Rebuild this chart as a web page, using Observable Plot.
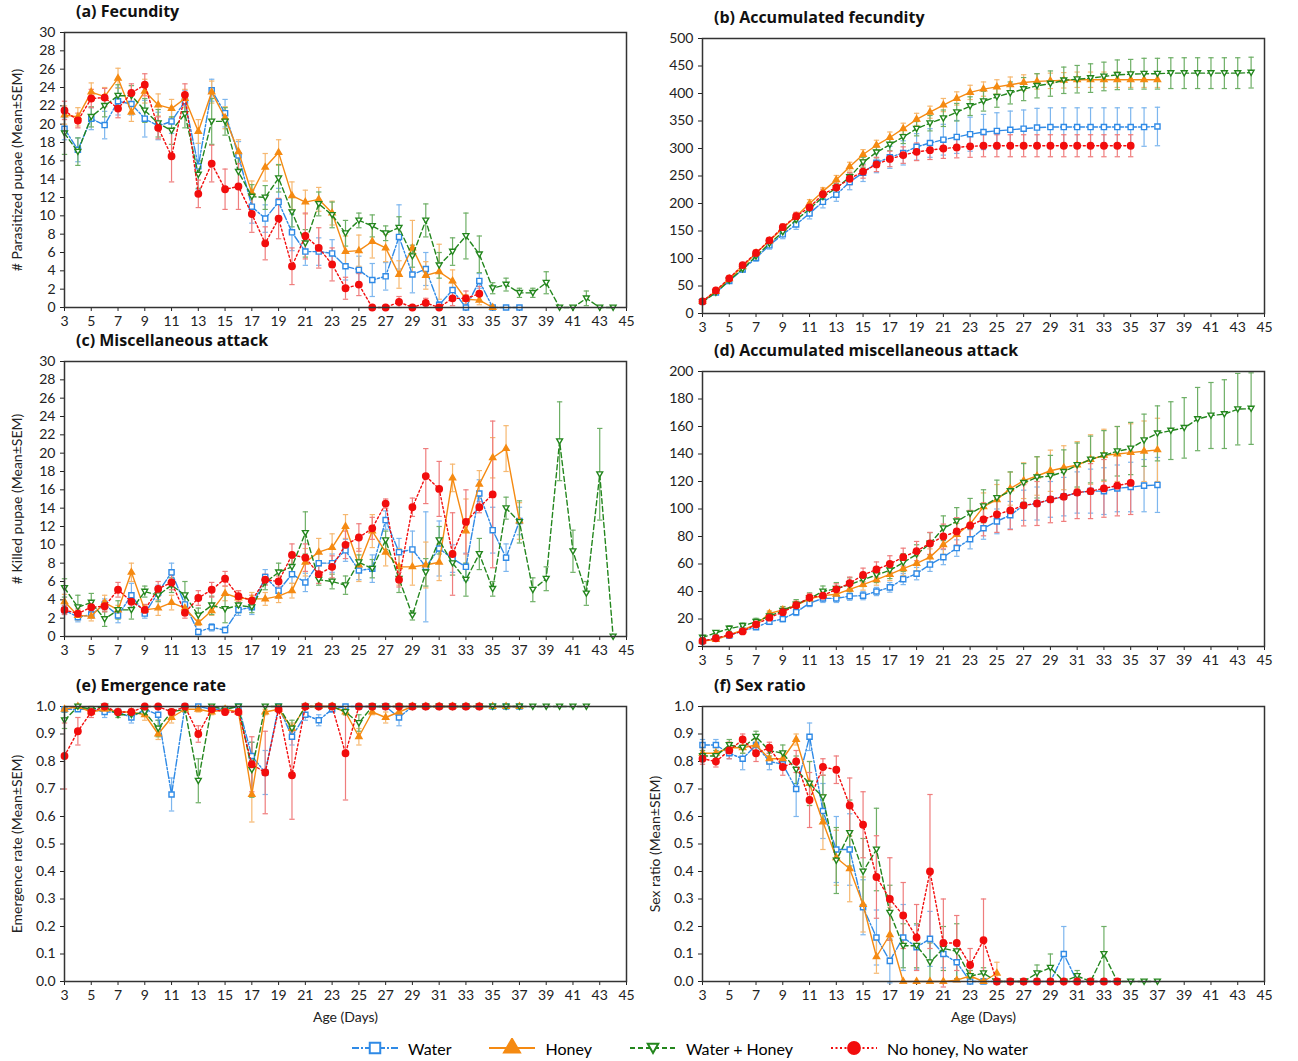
<!DOCTYPE html>
<html><head><meta charset="utf-8">
<script src="https://cdn.jsdelivr.net/npm/d3@7"></script>
<script src="https://cdn.jsdelivr.net/npm/@observablehq/plot@0.6"></script>
<style>
body{margin:0;background:#fff;font-family:Lato,"Open Sans",sans-serif;}
.panel{position:absolute;}
.ttl{position:absolute;font:bold 16px "Open Sans",sans-serif;color:#111;}
#legend{position:absolute;left:350px;top:1038px;font:16px Lato,sans-serif;display:flex;gap:36px;align-items:center;}
#legend span{display:flex;align-items:center;gap:8px;}
</style></head><body>
<div id="root"></div>
<div id="legend"></div>
<script>
// ---- data: index 0 = day 3 ----
const seriesNames = ["Water", "Honey", "Water + Honey", "No honey, No water"];

// (a) Fecundity
const fecWater = [19.5,17.2,20.6,19.9,22.5,22.2,20.6,19.8,20.3,22.5,15.4,23.7,21.2,16.6,11,9.7,11.5,8.2,6.1,6.1,5.9,4.5,4.1,3,3.4,7.7,3.6,4.2,0.3,1.9,0,2.9,0,0,0];
const fecHoney = [21,20.8,23.5,23,25,21.3,23.6,22.1,21.7,22.8,19.2,23.5,20.7,17,12.5,15.3,16.9,12.2,11.5,11.8,10.3,6.1,6.2,7.2,6.5,3.6,6.5,3.5,3.9,2.9,0.9,0.8,0];
const fecWH = [19,17,20.8,22,23.1,23.1,21.5,20.1,19.3,21.1,14.5,20.3,20.3,14.8,12.1,12,14.1,10.4,7,11.3,10.1,8.1,9.5,8.9,8.1,8.7,5.6,9.5,4.6,6.1,7.8,5.8,2.1,2.5,1.6,1.6,2.7,0,0,1,0,0];
const fecNone = [21.5,20.4,22.8,22.9,21.7,23.4,24.3,19.6,16.5,23.2,12.4,15.7,12.9,13.2,10.2,7,9.7,4.5,7.8,6.5,4.7,2.1,2.5,0,0,0.6,0,0.5,0,1,1,1.5];
const fecWaterSem = [1.2,1.3,1.2,1.5,1.5,1.2,2,1.5,1.3,1.2,2.5,1.2,1.5,1.5,1.8,1.5,1.5,2,1.5,1.5,1.5,1.5,1.5,1.8,1.5,3.5,2,1.8,0.3,0.8,0,0.8,0,0,0];
const fecHoneySem = [1,1,1,1,1.1,1,1.3,1.2,1,1,1.3,1.2,1.2,1.3,1.3,1.5,1.4,1.5,1.3,1.3,1.3,1.7,1.7,1.8,1.5,1.5,3,1.5,3,1.2,0.5,0.5,0];
const fecWHSem = [2.3,1.5,1.1,1.2,1.2,1.1,1.3,1.5,1.5,1.5,1.5,2.5,1.5,1.5,1.3,1.3,1.5,1.6,1.5,1.3,1.4,1.4,0.8,1.2,0.8,1.2,1.2,1.8,1.4,1.5,2.5,2,0.6,0.7,0.5,0.5,1.2,0,0,0.8,0,0];
const fecNoneSem = [1,0.8,1,1,1,1,1.2,1.2,2.8,1.2,1.5,2,2.2,2.5,2,1.8,2.2,2,2.5,2.2,1.8,1.2,1.2,0,0,0.6,0,0.5,0,0.8,0.8,0.8];

// (b) Accumulated fecundity
const accWater = [22,38,59,80,101,124,144,162,182,203,216,239,256,274,284,292,303,310,316,321,326,330,332,334,336,338,339,339,339,339,339,339,339,339,340];
const accHoney = [22,40,63,85,110,132,155,177,200,222,243,267,289,306,320,336,353,366,379,391,402,408,412,416,420,422,423,424,425,425,425,425,425,425,425];
const accWH = [21,38,60,81,104,127,148,170,190,212,228,248,275,293,307,321,336,346,355,366,377,386,394,401,408,414,418,424,426,428,431,434,435,436,436,437,437,437,437,437,437,438];
const accNone = [22,42,64,88,110,133,157,177,193,217,229,245,258,271,281,288,294,297,300,302,304,305,305,305,305,305,305,305,305,305,305,305,305];
const accWaterSem = [2,3,4,5,6,7,8,9,10,11,12,14,16,18,20,22,24,26,28,30,31,32,33,34,34,35,35,35,35,35,35,35,35,35,35];
const accHoneySem = [2,3,4,4,5,5,6,6,7,7,8,8,9,9,10,10,11,11,12,12,13,13,13,14,14,14,14,14,14,14,14,14,14,14,14];
const accWHSem = [2,3,4,4,5,5,6,6,7,7,8,8,9,10,11,12,13,14,15,16,17,18,19,20,21,22,23,24,25,26,26,27,27,28,28,28,28,28,28,28,28,28];
const accNoneSem = [2,3,4,4,5,5,6,7,8,9,10,11,12,13,14,15,16,17,18,19,20,20,20,20,20,20,20,20,20,20,20,20,20];

// (c) Miscellaneous attack
const misWater = [2.9,2.1,2.4,3.5,2.3,4.5,2.5,4.8,7,3.5,0.5,1,0.7,2.9,3.2,6.5,5,6.8,5.9,8,8,9.4,7.2,7.4,12.7,9.2,9.5,7.6,9.6,8.5,7.6,15.6,11.6,8.6,12.6];
const misHoney = [3.8,2.3,2.2,3.7,2.9,7,2.9,3.1,3.7,3.1,1.5,2.8,4.7,4.2,4.1,4.1,4.4,5,8.1,9.2,9.7,12,7.8,11.5,9.2,7.6,7.6,7.8,8.1,17.3,11.5,16.6,19.5,20.5,12.6];
const misWH = [5.3,3.2,3.7,1.9,2.9,2.9,4.9,4.5,5.6,4.5,2.3,3.4,3,3.4,3.2,5.9,7,7.6,11.3,6.2,6,5.6,8.1,7.4,10.5,6.3,2.3,7,10.5,8,6.2,9,5.2,14,12.5,5.1,6.3,21.3,9.3,4.7,17.7,0];
const misNone = [2.9,2.5,3.2,3.3,5.1,3.8,2.9,5.2,5.9,2.6,4.2,5.1,6.3,4.4,3.9,6.2,6,8.9,8.6,6.8,7.6,10,10.8,11.8,14.5,6.2,14.1,17.5,16.1,9,12.5,14.1,15.5];
const misWaterSem = [0.5,0.5,0.4,0.6,0.8,1.3,0.5,0.8,1,0.8,0.3,0.4,0.3,0.6,0.8,0.8,0.8,1,1,1.2,1,1.2,1,1.5,1,1.5,2,6,3,1.5,1.5,1.5,2.5,1.5,1.5];
const misHoneySem = [0.8,0.5,0.5,0.8,0.5,1,0.5,0.8,0.8,0.6,0.3,0.5,0.8,0.8,0.7,0.7,0.7,0.8,1.5,1.5,1.5,1.3,1.8,1.8,1.5,2,2,2.5,2,1.5,3.5,1.5,2.2,2.5,2];
const misWHSem = [1,1.3,1,0.8,1,1,0.6,0.7,0.8,1.5,0.8,1,1.5,0.8,0.6,0.8,1,1,2.3,0.6,0.8,1,0.8,1,1,1.5,0.5,1.5,1.5,1.3,1.8,1.7,0.8,1.2,2.3,1.3,1.3,4.3,2.3,1.3,5,0];
const misNoneSem = [0.5,0.5,0.5,0.6,0.8,0.8,0.6,0.8,0.8,0.6,0.8,0.8,0.8,0.6,0.6,0.6,0.6,1.2,1.5,1,1.2,1.5,1.5,1.2,0.5,0.8,1,3,3,4.5,3.5,0.6,8];

// (d) Accumulated miscellaneous attack
const amWater = [4,6,8,11.5,14,18,20,25,31.5,35,35,36.6,37,40,43,49,53,59.6,65,71.6,78,86,91,95.5,102.7,104,107,109,112,113,113,115,116,117,117.5];
const amHoney = [4,5,8.5,12,16,24,26.6,30,34.6,37,38,41.6,45,48.6,52.4,56.6,60.4,65,74,81.5,89,101.7,106.8,114.8,120.6,124,127.8,130,132,136,139,140,141,142,143];
const amWH = [6.5,10,13,15,18,22,26,30.6,35,40,42,45,48.6,52,55.4,61,67,74.8,86,91,96.7,102,108,113,119,123,124,127,132,136,139,142,144,150,155,157,159,165.4,168,169,172.6,173];
const amNone = [4,6,8.5,11,16,21,25,30,35.6,37,41.6,46,52,56,60,65,69.4,75,80,83.7,88,92.5,96,99,102.7,104,107,109,112,113,115,117,119];
const amWaterSem = [1,1,1,1.5,1.5,2,2,2.5,2.5,3,3,3,3,3,3.5,4,4.5,5,5.5,6,7,8,9,10,11,12,13,14,15,16,17,17,18,19,20];
const amHoneySem = [1,1,1.5,1.5,2,2,2.5,2.5,3,3,3,3.5,4,4,4.5,5,5.5,6,7,8,9,10,11,12,13,14,15,16,17,18,19,20,21,22,23];
const amWHSem = [1.5,1.5,2,2,2.5,3,3,3.5,4,4,4.5,5,5,5.5,6,6.5,7,8,9,10,11,12,13,14,14,15,15,16,16,17,18,18,19,19,20,21,22,23,24,25,26,26];
const amNoneSem = [1,1,1.5,1.5,2,2,2.5,3,3,3.5,4,4.5,5,5.5,6,6.5,7,8,9,10,11,12,13,14,15,16,17,18,19,20,21,22,23];

// (e) Emergence rate
const emWater = [0.99,0.99,0.99,0.98,0.98,0.96,0.99,0.97,0.68,1,1,0.99,0.99,1,0.82,0.76,1,0.89,0.97,0.95,0.99,1,1,1,1,0.96,1,1,1,1,1,1,1,1,1];
const emHoney = [0.99,1,0.98,0.99,0.98,0.98,0.97,0.9,0.96,0.99,0.99,0.98,0.99,0.98,0.68,0.98,0.99,0.92,1,1,1,0.98,0.89,0.98,0.96,0.98,1,1,1,1,1,1,1,1,1];
const emWH = [0.95,1,0.99,1,0.97,0.97,0.98,0.92,0.98,0.99,0.73,1,0.99,1,0.77,1,1,0.92,1,1,1,0.98,0.94,1,1,1,1,1,1,1,1,1,1,1,1,1,1,1,1,1];
const emNone = [0.82,0.91,0.98,1,0.98,0.98,1,1,0.98,1,0.9,0.99,0.98,0.98,0.79,0.76,0.99,0.75,1,1,1,0.83,1,1,1,1,1,1,1,1,1,1];
const emWaterSem = [0,0,0,0.02,0.01,0.02,0.01,0.02,0.06,0,0,0.01,0.01,0,0.05,0.08,0,0.03,0.02,0.02,0.01,0,0,0,0,0.03,0,0,0,0,0,0,0,0,0];
const emHoneySem = [0.01,0,0.01,0.01,0.01,0.01,0.02,0.02,0.02,0.01,0.01,0.01,0.01,0.01,0.1,0.01,0.01,0.02,0,0,0,0.01,0.03,0.01,0.02,0.01,0,0,0,0,0,0,0,0,0];
const emWHSem = [0.03,0,0.01,0,0.01,0.01,0.01,0.03,0.01,0.01,0.08,0,0.01,0,0.1,0,0,0.03,0,0,0,0.01,0.03,0,0,0,0,0,0,0,0,0,0,0,0,0,0,0,0,0];
const emNoneSem = [0.12,0.05,0.02,0,0.01,0.01,0,0,0.01,0,0.03,0.01,0.01,0.01,0.1,0.15,0.01,0.16,0,0,0,0.17,0,0,0,0,0,0,0,0,0,0];

// (f) Sex ratio
const srWater = [0.86,0.86,0.83,0.81,0.86,0.8,0.79,0.7,0.89,0.62,0.48,0.48,0.27,0.16,0.075,0.16,0.125,0.155,0.1,0.07,0,0,0,0,0,0,0,0.1,0,0,0,0];
const srHoney = [0.83,0.83,0.85,0.85,0.86,0.81,0.81,0.88,0.72,0.58,0.45,0.41,0.28,0.09,0.17,0,0,0,0,0.005,0.02,0,0.03];
const srWH = [0.82,0.82,0.86,0.85,0.89,0.84,0.83,0.77,0.72,0.67,0.44,0.54,0.4,0.48,0.25,0.13,0.13,0.07,0.12,0.11,0.02,0.03,0,0,0,0.03,0.05,0,0.02,0,0.1,0,0,0,0];
const srNone = [0.81,0.8,0.84,0.88,0.83,0.85,0.78,0.8,0.66,0.78,0.77,0.64,0.57,0.38,0.3,0.24,0.16,0.4,0.14,0.14,0.06,0.15,0,0,0,0,0,0,0,0,0,0];
const srWaterSem = [0.02,0.02,0.02,0.04,0.02,0.03,0.02,0.1,0.05,0.1,0.12,0.13,0.1,0.1,0.08,0.12,0.08,0.1,0.05,0.06,0,0,0,0,0,0,0,0.1,0,0,0,0];
const srHoneySem = [0.02,0.02,0.02,0.02,0.02,0.02,0.02,0.02,0.08,0.1,0.1,0.12,0.1,0.06,0.1,0,0,0,0,0.005,0.02,0,0.04];
const srWHSem = [0.02,0.02,0.02,0.02,0.02,0.02,0.03,0.05,0.08,0.08,0.12,0.12,0.12,0.15,0.1,0.08,0.08,0.07,0.08,0.1,0.02,0.02,0,0,0,0.03,0.05,0,0.02,0,0.1,0,0,0,0];
const srNoneSem = [0.02,0.02,0.03,0.02,0.03,0.02,0.03,0.04,0.1,0.03,0.05,0.1,0.12,0.15,0.15,0.12,0.12,0.28,0.16,0.1,0.06,0.15,0,0,0,0,0,0,0,0,0,0];

const xTicks = d3.range(3, 46, 2);

// ---- styling ----
const downTri = {draw(ctx, size) {
  const r = Math.sqrt(size) * 0.5;
  ctx.moveTo(-r, -r * 0.8); ctx.lineTo(r, -r * 0.8); ctx.lineTo(0, r * 0.95); ctx.closePath();
}};
const styles = [
  {color: "#2f8ae6", err: "#7db6ee", dash: "7,2,2,2", symbol: "square", fill: "white", r: 2.9},
  {color: "#f58a12", err: "#f6b870", dash: null, symbol: "triangle", fill: "#f58a12", r: 2.3},
  {color: "#23861d", err: "#6eaf66", dash: "5,3", symbol: downTri, fill: "white", r: 3.3},
  {color: "#f20d0d", err: "#ef7d7d", dash: "2,2.5", symbol: "circle", fill: "#f20d0d", r: 3.2}
];

function rows(vals, sems) {
  return vals.map((v, i) => ({day: 3 + i, v, lo: v - sems[i], hi: v + sems[i]}));
}

function panel({left, top, title, yDomain, yTicks, yFmt, yLabel, xLabel, data}) {
  const marks = [];
  const cap = 0.2;
  data.forEach(([vals, sems], k) => {
    const s = styles[k];
    const d = rows(vals, sems).filter(r => r.hi > r.lo);
    marks.push(Plot.ruleX(d, {x: "day", y1: "lo", y2: "hi", stroke: s.err, strokeWidth: 1.2}));
    marks.push(Plot.link(d, {x1: r => r.day - cap, x2: r => r.day + cap, y1: "hi", y2: "hi", stroke: s.err, strokeWidth: 1.2}));
    marks.push(Plot.link(d, {x1: r => r.day - cap, x2: r => r.day + cap, y1: "lo", y2: "lo", stroke: s.err, strokeWidth: 1.2}));
  });
  data.forEach(([vals, sems], k) => {
    const s = styles[k];
    const d = rows(vals, sems);
    marks.push(Plot.line(d, {x: "day", y: "v", stroke: s.color, strokeWidth: 1.4, strokeDasharray: s.dash}));
    marks.push(Plot.dot(d, {x: "day", y: "v", symbol: () => s.symbol, r: s.r, stroke: s.color, strokeWidth: 1.4, fill: s.fill}));
  });
  marks.push(Plot.frame({stroke: "#333", strokeWidth: 1.5}));
  const chart = Plot.plot({
    width: 630, height: xLabel ? 330 : 310,
    marginLeft: 58, marginRight: 10, marginTop: 10, marginBottom: xLabel ? 45 : 25,
    style: {fontFamily: "Lato, sans-serif", fontSize: "14px", color: "#222", overflow: "visible"},
    x: {domain: [3, 45], ticks: xTicks, tickSize: 4, label: xLabel || null, labelAnchor: "center", labelOffset: 40, labelArrow: "none"},
    y: {domain: yDomain, ticks: yTicks, tickFormat: yFmt, tickSize: 4, label: yLabel, labelAnchor: "center", labelOffset: 52, labelArrow: "none"},
    symbol: {type: "identity"},
    marks
  });
  const div = document.createElement("div");
  div.className = "panel";
  div.style.left = left + "px"; div.style.top = top + "px";
  div.appendChild(chart);
  document.body.appendChild(div);
  const t = document.createElement("div");
  t.className = "ttl";
  t.textContent = title;
  t.style.left = (left + 70) + "px"; t.style.top = (top - 22) + "px";
  document.body.appendChild(t);
}

const tk30 = d3.range(0, 31, 2);
const tk1 = d3.range(0, 11).map(i => i / 10);
panel({left: 6, top: 22, title: "(a) Fecundity", yDomain: [0, 30], yTicks: tk30, yLabel: "# Parasitized pupae (Mean±SEM)",
  data: [[fecWater, fecWaterSem], [fecHoney, fecHoneySem], [fecWH, fecWHSem], [fecNone, fecNoneSem]]});
panel({left: 644, top: 28, title: "(b) Accumulated fecundity", yDomain: [0, 500], yTicks: d3.range(0, 501, 50), yLabel: null,
  data: [[accWater, accWaterSem], [accHoney, accHoneySem], [accWH, accWHSem], [accNone, accNoneSem]]});
panel({left: 6, top: 351, title: "(c) Miscellaneous attack", yDomain: [0, 30], yTicks: tk30, yLabel: "# Killed pupae (Mean±SEM)",
  data: [[misWater, misWaterSem], [misHoney, misHoneySem], [misWH, misWHSem], [misNone, misNoneSem]]});
panel({left: 644, top: 361, title: "(d) Accumulated miscellaneous attack", yDomain: [0, 200], yTicks: d3.range(0, 201, 20), yLabel: null,
  data: [[amWater, amWaterSem], [amHoney, amHoneySem], [amWH, amWHSem], [amNone, amNoneSem]]});
panel({left: 6, top: 696, title: "(e) Emergence rate", yDomain: [0, 1], yTicks: tk1, yFmt: d3.format(".1f"), yLabel: "Emergence rate (Mean±SEM)", xLabel: "Age (Days)",
  data: [[emWater, emWaterSem], [emHoney, emHoneySem], [emWH, emWHSem], [emNone, emNoneSem]]});
panel({left: 644, top: 696, title: "(f) Sex ratio", yDomain: [0, 1], yTicks: tk1, yFmt: d3.format(".1f"), yLabel: "Sex ratio (Mean±SEM)", xLabel: "Age (Days)",
  data: [[srWater, srWaterSem], [srHoney, srHoneySem], [srWH, srWHSem], [srNone, srNoneSem]]});

// legend
const leg = d3.select("#legend");
seriesNames.forEach((name, k) => {
  const s = styles[k];
  const sp = leg.append("span");
  const svg = sp.append("svg").attr("width", 50).attr("height", 20);
  svg.append("line").attr("x1", 2).attr("x2", 48).attr("y1", 10).attr("y2", 10)
    .attr("stroke", s.color).attr("stroke-width", 2).attr("stroke-dasharray", s.dash);
  const sym = typeof s.symbol === "string" ? {square: d3.symbolSquare, triangle: d3.symbolTriangle, circle: d3.symbolCircle}[s.symbol] : s.symbol;
  svg.append("path").attr("transform", "translate(25,10)").attr("d", d3.symbol(sym, 110)())
    .attr("fill", s.fill).attr("stroke", s.color).attr("stroke-width", 2);
  sp.append("span").text(name);
});
</script></body></html>
